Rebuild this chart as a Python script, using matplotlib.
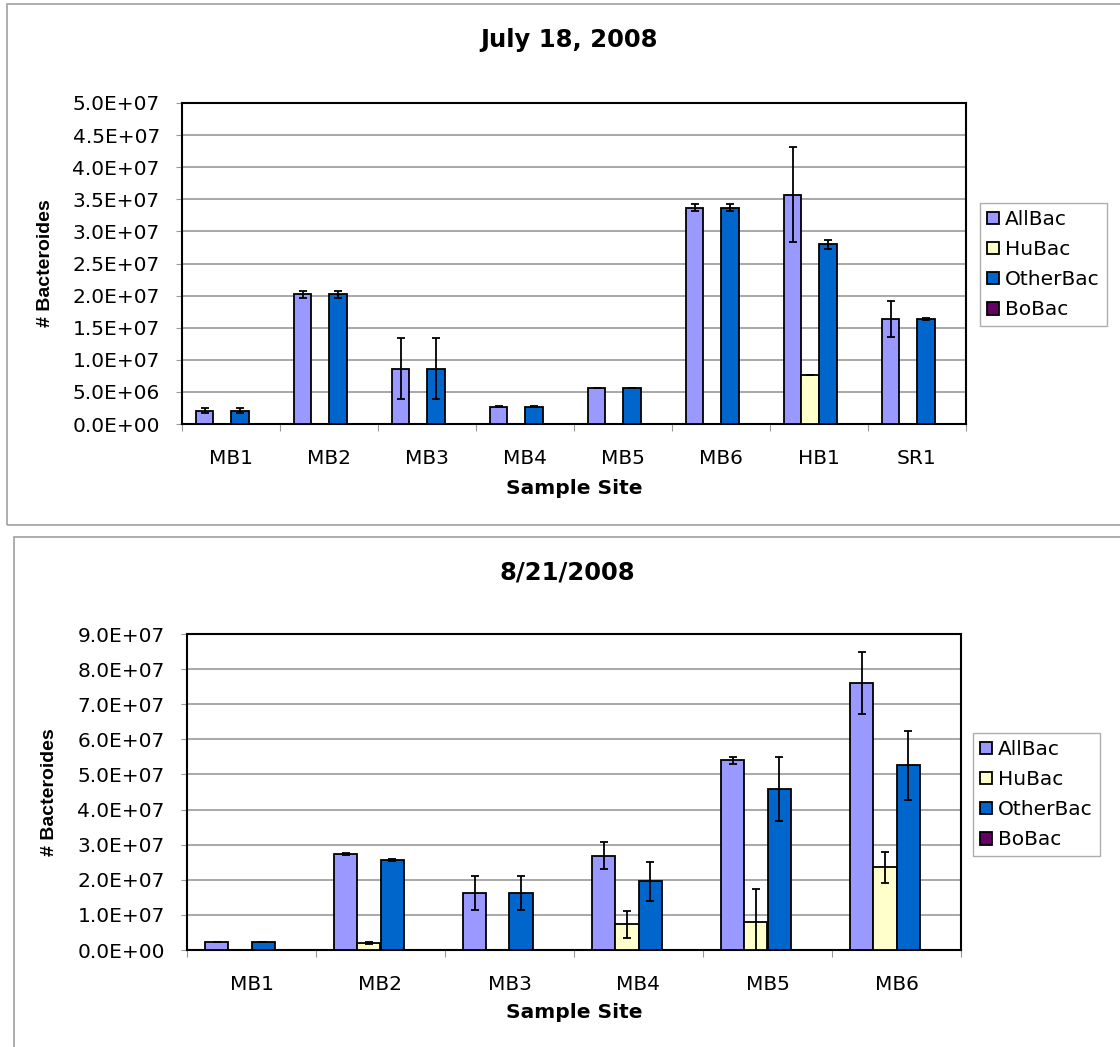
import numpy as np
import matplotlib.pyplot as plt
from matplotlib.patches import Rectangle
from matplotlib.ticker import FuncFormatter

# the chart text is wide (stretched Arial); DejaVu Sans gets the widths closest
plt.rcParams['font.family'] = ['DejaVu Sans']

series = ['AllBac', 'HuBac', 'OtherBac', 'BoBac']
colors = ['#9999FF', '#FFFFCC', '#0066CC', '#660066']

# July 18, 2008
sites1 = ['MB1', 'MB2', 'MB3', 'MB4', 'MB5', 'MB6', 'HB1', 'SR1']
allbac1 = [2.1e6, 20.2e6, 8.6e6, 2.7e6, 5.6e6, 33.7e6, 35.7e6, 16.4e6]
allbac1_err = [0.4e6, 0.5e6, 4.75e6, 0.05e6, 0.05e6, 0.55e6, 7.4e6, 2.8e6]
hubac1 = [0, 0, 0, 0, 0, 0, 7.7e6, 0]
hubac1_err = [0, 0, 0, 0, 0, 0, 0, 0]
other1 = [2.1e6, 20.2e6, 8.6e6, 2.7e6, 5.6e6, 33.7e6, 28.0e6, 16.4e6]
other1_err = [0.4e6, 0.5e6, 4.75e6, 0.05e6, 0.05e6, 0.55e6, 0.67e6, 0.15e6]
bobac1 = [0, 0, 0, 0, 0, 0, 0, 0]

# 8/21/2008
sites2 = ['MB1', 'MB2', 'MB3', 'MB4', 'MB5', 'MB6']
allbac2 = [2.3e6, 27.3e6, 16.3e6, 26.9e6, 54.0e6, 76.1e6]
allbac2_err = [0.1e6, 0.2e6, 4.85e6, 3.9e6, 1.0e6, 8.9e6]
hubac2 = [0, 1.9e6, 0, 7.3e6, 8.1e6, 23.5e6]
hubac2_err = [0, 0.3e6, 0, 3.9e6, 9.2e6, 4.3e6]
other2 = [2.3e6, 25.7e6, 16.3e6, 19.6e6, 45.8e6, 52.6e6]
other2_err = [0.1e6, 0.3e6, 4.85e6, 5.6e6, 9.2e6, 9.9e6]
bobac2 = [0, 0, 0, 0, 0, 0]

W, H = 1120, 1047
fig = plt.figure(figsize=(W / 100, H / 100), dpi=100)

# chart borders
fig.patches.append(Rectangle((7 / W, 1 - 525 / H), 1.2, 521 / H, transform=fig.transFigure,
                             fill=False, edgecolor='#a0a0a0', lw=1.2))
fig.patches.append(Rectangle((14 / W, -0.05), 1.2, 1 - 537 / H + 0.05, transform=fig.transFigure,
                             fill=False, edgecolor='#a0a0a0', lw=1.2))


def excel_sci(v, pos):
    if v <= 0:
        return '0.0E+00'
    e = int(np.floor(np.log10(v) + 1e-9))
    return '%.1fE%+03d' % (v / 10 ** e, e)


def draw(ax, sites, vals, errs, ymax, ystep, xlab_y, ylab_x):
    n = len(sites)
    x = np.arange(n)
    w = 0.18
    for k in range(4):
        ax.bar(x + (k - 1.5) * w, vals[k], w, color=colors[k], edgecolor='black',
               linewidth=1.3, label=series[k], zorder=3)
        if errs[k] is not None:
            ax.errorbar(x + (k - 1.5) * w, vals[k], yerr=errs[k], fmt='none', ecolor='black',
                        elinewidth=1.3, capsize=3, capthick=1.3, zorder=4)
    ax.set_xlim(-0.5, n - 0.5)
    ax.set_ylim(0, ymax)
    ax.set_yticks(np.arange(0, ymax + ystep / 2, ystep))
    ax.yaxis.set_major_formatter(FuncFormatter(excel_sci))
    ax.yaxis.grid(True, color='#999999', lw=1.2, zorder=0)
    ax.set_xticks(np.arange(n + 1) - 0.5)
    ax.set_xticklabels([])
    ax.set_xticks(x, minor=True)
    ax.set_xticklabels(sites, minor=True)
    ax.tick_params(axis='x', which='minor', length=0, pad=18, labelsize=14.5)
    ax.tick_params(axis='x', which='major', length=5, color='#999999')
    ax.tick_params(axis='y', length=4, color='#999999', labelsize=14.5, pad=12)
    for s in ax.spines.values():
        s.set_linewidth(1.5)
        s.set_color('black')
    ax.set_xlabel('Sample Site', fontsize=14.5, fontweight='bold', va='center')
    ax.xaxis.set_label_coords(0.5, xlab_y)
    ax.set_ylabel('# Bacteroides', fontsize=14, fontweight='bold', va='center',
                  family='Liberation Sans')
    ax.yaxis.set_label_coords(ylab_x, 0.5)


def legend(ax, x0, y0):
    leg = ax.legend(loc='upper left', bbox_to_anchor=(x0 / W, 1 - y0 / H), bbox_transform=fig.transFigure,
                    frameon=True, fancybox=False, edgecolor='#999999', fontsize=14.5, handlelength=0.6,
                    handleheight=0.6, handletextpad=0.3, borderpad=0.35, labelspacing=0.55,
                    borderaxespad=0)
    leg.get_frame().set_linewidth(1.0)


ax1 = fig.add_axes([182 / W, 1 - 424 / H, 784 / W, 321 / H])
draw(ax1, sites1, [allbac1, hubac1, other1, bobac1],
     [allbac1_err, hubac1_err, other1_err, None], 5e7, 5e6, -65 / 321, -(182 - 45) / 784)
fig.text(569 / W, 1 - 40 / H, 'July 18, 2008', ha='center', va='center', fontsize=17.5, fontweight='bold')
legend(ax1, 980, 203)

ax2 = fig.add_axes([187 / W, 1 - 950 / H, 774 / W, 316 / H])
draw(ax2, sites2, [allbac2, hubac2, other2, bobac2],
     [allbac2_err, hubac2_err, other2_err, None], 9e7, 1e7, -62 / 316, -(187 - 50) / 774)
fig.text(567 / W, 1 - 573 / H, '8/21/2008', ha='center', va='center', fontsize=17.5, fontweight='bold')
legend(ax2, 973, 733)

fig.savefig('out.png', dpi=100)
